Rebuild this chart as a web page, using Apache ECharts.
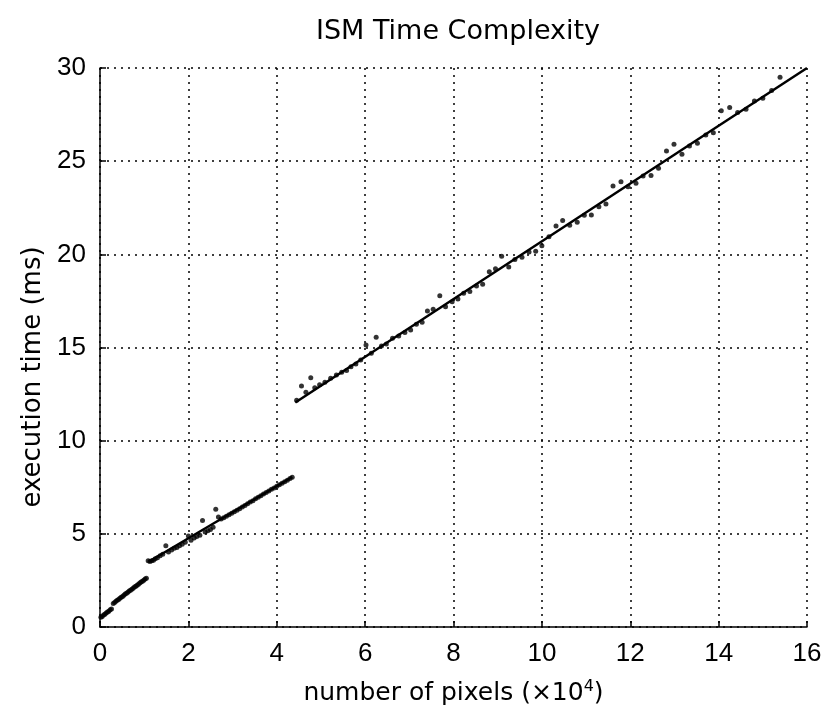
<!DOCTYPE html>
<html>
<head>
<meta charset="utf-8">
<script src="https://cdn.jsdelivr.net/npm/echarts@6/dist/echarts.min.js"></script>
<style>html,body{margin:0;padding:0;background:#fff}#c{width:828px;height:715px}</style>
</head>
<body>
<div id="c"></div>
<script>
const xTicks = [0, 2, 4, 6, 8, 10, 12, 14, 16];
const yTicks = [0, 5, 10, 15, 20, 25, 30];

const seg1X = [0.02,0.05,0.08,0.11,0.14,0.17,0.20,0.23,0.26,0.30,0.33,0.36,0.39,0.42,0.45,0.48,0.51,0.54,0.57,0.60,0.63,0.66,0.69,0.72,0.75,0.78,0.81,0.84,0.87,0.90,0.93,0.96,0.99,1.02,1.05];
const seg1Y = [0.52,0.57,0.64,0.69,0.75,0.80,0.85,0.92,0.97,1.26,1.31,1.38,1.43,1.47,1.54,1.60,1.64,1.70,1.77,1.81,1.86,1.93,1.97,2.02,2.08,2.15,2.19,2.24,2.30,2.36,2.41,2.46,2.51,2.57,2.62];

const seg2X = [1.09,1.13,1.17,1.21,1.25,1.30,1.36,1.42,1.49,1.55,1.62,1.68,1.74,1.80,1.86,1.93,2.00,2.06,2.13,2.19,2.26,2.32,2.38,2.44,2.50,2.56,2.62,2.68,2.74,2.80,2.86,2.92,2.98,3.04,3.10,3.16,3.22,3.28,3.34,3.40,3.46,3.52,3.58,3.64,3.70,3.76,3.82,3.88,3.94,4.00,4.06,4.12,4.18,4.24,4.30,4.35];
const seg2Y = [3.56,3.52,3.55,3.58,3.66,3.72,3.82,3.90,4.36,4.02,4.13,4.22,4.27,4.36,4.44,4.55,4.88,4.66,4.78,4.86,4.93,5.71,5.10,5.16,5.23,5.35,6.32,5.90,5.80,5.86,5.95,6.02,6.10,6.18,6.27,6.35,6.44,6.52,6.62,6.71,6.78,6.88,6.96,7.05,7.14,7.22,7.30,7.39,7.46,7.55,7.63,7.72,7.80,7.88,7.97,8.04];

const seg3X = [4.45,4.56,4.66,4.77,4.86,4.97,5.09,5.22,5.35,5.47,5.58,5.68,5.79,5.90,6.02,6.14,6.25,6.37,6.48,6.62,6.76,6.90,7.03,7.16,7.29,7.41,7.54,7.69,7.82,7.97,8.10,8.23,8.37,8.52,8.66,8.81,8.95,9.09,9.25,9.39,9.55,9.71,9.86,10.00,10.16,10.32,10.47,10.63,10.80,10.96,11.12,11.29,11.45,11.61,11.79,11.95,12.13,12.29,12.47,12.64,12.82,12.99,13.17,13.34,13.52,13.71,13.88,14.06,14.25,14.43,14.62,14.81,15.00,15.20,15.39];
const seg3Y = [12.17,12.94,12.60,13.38,12.84,13.00,13.13,13.35,13.53,13.67,13.76,13.97,14.12,14.33,15.14,14.69,15.55,15.08,15.19,15.49,15.62,15.80,15.94,16.25,16.36,16.96,17.05,17.78,17.19,17.46,17.60,17.91,18.00,18.30,18.39,19.07,19.22,19.90,19.32,19.72,19.84,20.13,20.17,20.46,20.94,21.52,21.81,21.56,21.72,22.10,22.11,22.56,22.70,23.67,23.90,23.63,23.81,24.20,24.23,24.62,25.55,25.91,25.37,25.82,25.96,26.41,26.53,27.70,27.88,27.61,27.79,28.23,28.38,28.79,29.51];

const fit2X = [1.1, 4.35];
const fit2Y = [3.5, 8.05];
const fit3X = [4.42, 16];
const fit3Y = [12.05, 30];

const zip = (a, b) => a.map((v, i) => [v, b[i]]);
const FONT = 'Liberation Sans';
const FONT2 = 'DejaVu Sans';

const chart = echarts.init(document.getElementById('c'), null, {renderer: 'canvas'});
const dotStyle = {color: '#000'};
chart.setOption({
  animation: false,
  backgroundColor: '#fff',
  title: {
    text: 'ISM Time Complexity',
    left: 453, top: 13, textAlign: 'center',
    textStyle: {fontFamily: FONT2, fontSize: 27, fontWeight: 'normal', color: '#000'}
  },
  graphic: [{
    type: 'text', x: 33, y: 377, rotation: Math.PI / 2,
    style: {text: 'execution time (ms)', fontFamily: FONT2, fontSize: 26, fill: '#000',
      align: 'center', verticalAlign: 'middle'}
  }],
  grid: {left: 100, right: 21, top: 68, bottom: 88, containLabel: false},
  xAxis: {
    type: 'value', min: 0, max: 16, interval: 2,
    name: 'number of pixels (×10{sup|4})',
    nameLocation: 'middle', nameGap: 52,
    nameTextStyle: {fontFamily: FONT2, fontSize: 25, color: '#000',
      rich: {sup: {fontFamily: FONT2, fontSize: 16, verticalAlign: 'top', padding: [0, 0, 12, 0], color: '#000'}}},
    axisLine: {show: true, lineStyle: {color: '#000', width: 1.5}},
    axisTick: {show: true, inside: true, length: 6, lineStyle: {color: '#000', width: 1.5}},
    axisLabel: {fontFamily: FONT, fontSize: 26, color: '#000', margin: 14,
      formatter: v => xTicks.includes(v) ? String(v) : ''},
    splitLine: {show: true, lineStyle: {color: '#000', type: [2, 5], width: 1.5}}
  },
  yAxis: {
    type: 'value', min: 0, max: 30, interval: 5,
    axisLine: {show: true, lineStyle: {color: '#000', width: 1.5}},
    axisTick: {show: true, inside: true, length: 6, lineStyle: {color: '#000', width: 1.5}},
    axisLabel: {fontFamily: FONT, fontSize: 26, color: '#000', margin: 14,
      formatter: v => yTicks.includes(v) ? String(v) : ''},
    splitLine: {show: true, lineStyle: {color: '#000', type: [2, 5], width: 1.5}}
  },
  series: [
    {type: 'scatter', data: zip(seg1X, seg1Y), symbolSize: 5, itemStyle: dotStyle},
    {type: 'scatter', data: zip(seg2X, seg2Y), symbolSize: 5, itemStyle: dotStyle},
    {type: 'scatter', data: zip(seg3X, seg3Y), symbolSize: 5, itemStyle: dotStyle},
    {type: 'line', data: zip(fit2X, fit2Y), showSymbol: false, lineStyle: {color: '#000', width: 2.5}},
    {type: 'line', data: zip(fit3X, fit3Y), showSymbol: false, lineStyle: {color: '#000', width: 2.5}}
  ]
});
</script>
</body>
</html>
